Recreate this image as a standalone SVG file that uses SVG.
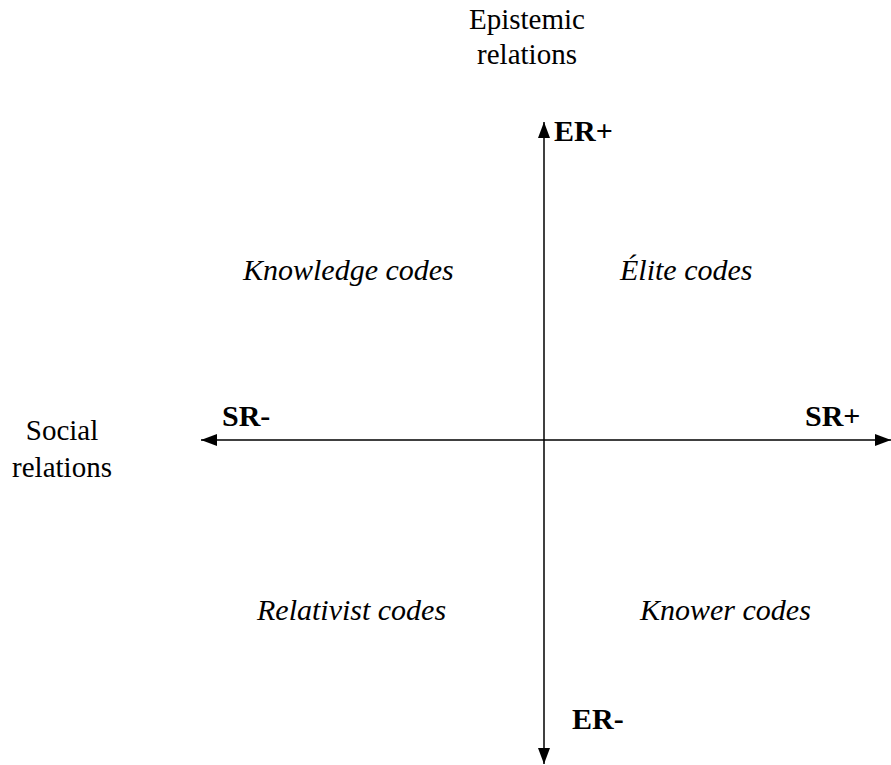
<svg xmlns="http://www.w3.org/2000/svg" width="891" height="765" viewBox="0 0 891 765">
<style>
text{font-family:'Liberation Serif','Times New Roman',serif;font-size:30px;fill:#000}
.a{font-size:29px}
.b{font-weight:bold}
.i{font-style:italic}
.ax{stroke:#000;stroke-width:1.5;fill:none}
</style>
<defs>
<marker id="ah" markerWidth="16" markerHeight="12" refX="16" refY="6" orient="auto" markerUnits="userSpaceOnUse">
<path d="M0,0 L16,6 L0,12 Z" fill="#000"/>
</marker>
</defs>
<rect width="891" height="765" fill="#fff"/>
<g id="connectors">
<line class="ax" x1="544" y1="440" x2="544" y2="122" marker-end="url(#ah)"/>
<line class="ax" x1="544" y1="440" x2="544" y2="764" marker-end="url(#ah)"/>
<line class="ax" x1="544" y1="440" x2="201" y2="440" marker-end="url(#ah)"/>
<line class="ax" x1="544" y1="440" x2="891" y2="440" marker-end="url(#ah)"/>
</g>
<g id="er-axis-label"><text class="a" x="527" y="29" text-anchor="middle">Epistemic</text><text class="a" x="527" y="64" text-anchor="middle">relations</text></g>
<g id="sr-axis-label"><text class="a" x="62" y="440" text-anchor="middle">Social</text><text class="a" x="62" y="477" text-anchor="middle">relations</text></g>
<g id="er-plus"><text class="b" x="554" y="141">ER+</text></g>
<g id="er-minus"><text class="b" x="572" y="729">ER-</text></g>
<g id="sr-minus"><text class="b" x="222" y="426">SR-</text></g>
<g id="sr-plus"><text class="b" x="805" y="426">SR+</text></g>
<g id="knowledge"><text class="i" x="243" y="280">Knowledge codes</text></g>
<g id="elite"><text class="i" x="620" y="280">Élite codes</text></g>
<g id="relativist"><text class="i" x="257" y="620">Relativist codes</text></g>
<g id="knower"><text class="i" x="640" y="620">Knower codes</text></g>
</svg>
